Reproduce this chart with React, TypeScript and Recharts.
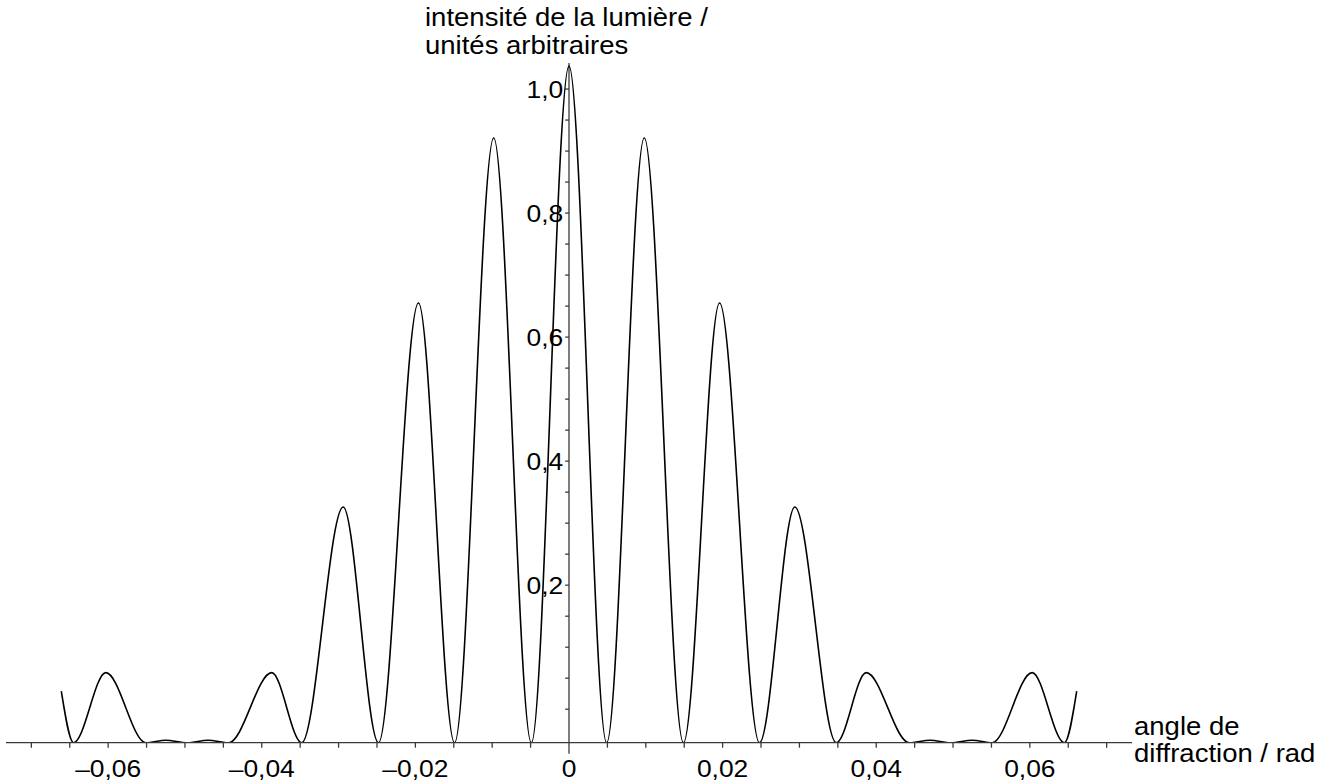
import { LineChart, Line, XAxis, YAxis, ReferenceLine } from 'recharts'

const angle = [
  -0.0661, -0.0645, -0.0603, -0.0551, -0.0525, -0.0497, -0.047, -0.0443, -0.0387, -0.0348,
  -0.0294, -0.0248, -0.0196, -0.0149, -0.0098, -0.0049, 0, 0.0049, 0.0098, 0.0149, 0.0196,
  0.0248, 0.0294, 0.0348, 0.0387, 0.0443, 0.047, 0.0497, 0.0525, 0.0551, 0.0603, 0.0645, 0.0661,
]
const intensity = [
  0.029, -0.054, 0.059, -0.054, -0.05, -0.054, -0.05, -0.054, 0.059, -0.054, 0.326, -0.054,
  0.655, -0.054, 0.921, -0.054, 1.037, -0.054, 0.921, -0.054, 0.655, -0.054, 0.326, -0.054,
  0.059, -0.054, -0.05, -0.054, -0.05, -0.054, 0.059, -0.054, 0.029,
]

const xTicks = [
  -0.07, -0.065, -0.06, -0.055, -0.05, -0.045, -0.04, -0.035, -0.03, -0.025, -0.02, -0.015,
  -0.01, -0.005, 0, 0.005, 0.01, 0.015, 0.02, 0.025, 0.03, 0.035, 0.04, 0.045, 0.05, 0.055,
  0.06, 0.065, 0.07,
]
const xLabelAt = [-0.06, -0.04, -0.02, 0, 0.02, 0.04, 0.06]
const xLabels = ['–0,06', '–0,04', '–0,02', '0', '0,02', '0,04', '0,06']

const yTicks = [
  0, 0.05, 0.1, 0.15, 0.2, 0.25, 0.3, 0.35, 0.4, 0.45, 0.5, 0.55, 0.6, 0.65, 0.7, 0.75, 0.8,
  0.85, 0.9, 0.95, 1.0,
]
const yLabelAt = [0.2, 0.4, 0.6, 0.8, 1.0]
const yLabels = ['0,2', '0,4', '0,6', '0,8', '1,0']

const data = angle.map((x, i) => ({ x, y: intensity[i] }))

const FONT = '"Liberation Sans", Arial, sans-serif'
const AXIS = '#3a3a3a'

function XTick({ x, y, payload }: any) {
  const i = xLabelAt.findIndex((v) => Math.abs(v - payload.value) < 1e-9)
  return (
    <g>
      {payload.value === 0 && <line x1={x} x2={x} y1={y - 2} y2={y + 4} stroke={AXIS} strokeWidth={1.3} />}
      {i >= 0 && (
        <text
          transform={`translate(${x},${y + 27}) scale(1.1,1)`}
          textAnchor="middle"
          fontFamily={FONT}
          fontSize={24}
          fill="#000"
        >
          {xLabels[i]}
        </text>
      )}
    </g>
  )
}

function YTickLabel({ viewBox, text }: any) {
  if (!viewBox) return null
  return (
    <text
      transform={`translate(${viewBox.x - 2},${viewBox.y + 8.5}) scale(1.1,1)`}
      textAnchor="end"
      fontFamily={FONT}
      fontSize={24}
      fill="#000"
    >
      {text}
    </text>
  )
}

const titleStyle: React.CSSProperties = {
  position: 'absolute',
  fontFamily: FONT,
  fontSize: 25,
  color: '#000',
  whiteSpace: 'nowrap',
  transform: 'scaleX(1.1)',
  transformOrigin: 'left top',
}

export default function App() {
  return (
    <div style={{ position: 'absolute', left: 0, top: 0, width: 1334, height: 784, background: '#fff' }}>
      <LineChart
        width={1334}
        height={784}
        data={data}
        margin={{ top: 63, right: 202, bottom: 1.3, left: 6 }}
      >
        <XAxis
          dataKey="x"
          type="number"
          domain={[-0.0733, 0.0733]}
          ticks={xTicks}
          interval={0}
          height={40}
          tickSize={5}
          tickMargin={2}
          axisLine={{ stroke: AXIS, strokeWidth: 1.3 }}
          tickLine={{ stroke: AXIS, strokeWidth: 1.3 }}
          tick={<XTick />}
          allowDataOverflow
        />
        <YAxis hide type="number" domain={[-0.054, 1.042]} allowDataOverflow />
        <ReferenceLine x={0} stroke={AXIS} strokeWidth={1.3} />
        {yTicks.map((v) => {
          const i = yLabelAt.findIndex((l) => Math.abs(l - v) < 1e-9)
          return (
            <ReferenceLine
              key={v}
              segment={[
                { x: -0.0005, y: v },
                { x: 0, y: v },
              ]}
              stroke={AXIS}
              strokeWidth={1.3}
              label={i >= 0 ? <YTickLabel text={yLabels[i]} /> : undefined}
            />
          )
        })}
        <Line
          type="monotone"
          dataKey="y"
          stroke="#000"
          strokeWidth={1.6}
          dot={false}
          isAnimationActive={false}
        />
      </LineChart>
      <div style={{ ...titleStyle, left: 425, top: 3, lineHeight: '28px' }}>
        intensité de la lumière /
        <br />
        unités arbitraires
      </div>
      <div style={{ ...titleStyle, left: 1134, top: 713, lineHeight: '27px' }}>
        angle de
        <br />
        diffraction / rad
      </div>
    </div>
  )
}
